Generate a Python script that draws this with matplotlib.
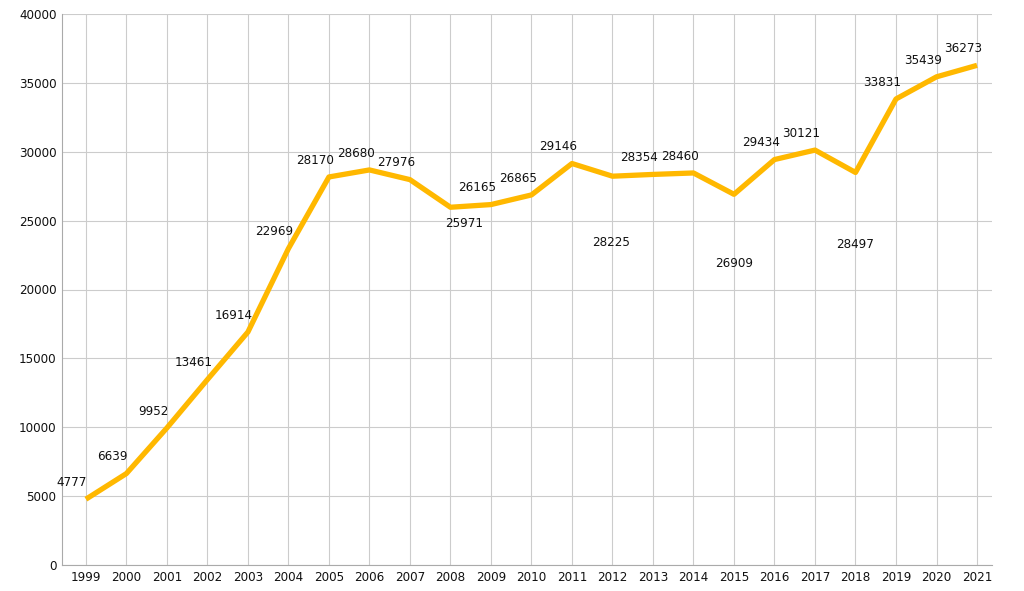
import matplotlib
matplotlib.use("Agg")
import matplotlib.pyplot as plt

years = list(range(1999, 2022))
values = [4777, 6639, 9952, 13461, 16914, 22969, 28170, 28680, 27976, 25971,
          26165, 26865, 29146, 28225, 28354, 28460, 26909, 29434, 30121, 28497,
          33831, 35439, 36273]

# label offsets in points (dx, dy)
below = {2008: (10, -12), 2012: (-1, -48), 2015: (0, -50), 2018: (0, -52)}

plt.rcParams['font.family'] = ['DejaVu Sans']
fig = plt.figure(figsize=(10.24, 5.91), dpi=100)
ax = fig.add_axes([62/1024, 26/591, 930/1024, 551/591])

ax.plot(years, values, color='#FFB800', linewidth=3.8, solid_capstyle='butt', zorder=3)
for y, v in zip(years, values):
    dx, dy = below.get(y, (-10, 12))
    ax.annotate(str(v), (y, v), xytext=(dx, dy), textcoords='offset points',
                ha='center', va='center', fontsize=9.5, fontstretch='condensed', color='#111111')

ax.set_xlim(1998.41, 2021.37)
ax.set_ylim(0, 40000)
ax.set_xticks(years)
ax.set_yticks(range(0, 40001, 5000))
ax.grid(True, color='#cccccc', linewidth=0.8, zorder=0)
for s in ['top', 'right']:
    ax.spines[s].set_visible(False)
for s in ['left', 'bottom']:
    ax.spines[s].set_color('#aaaaaa')
ax.tick_params(length=0, labelsize=9.5, colors='#111111', pad=4)
for lab in ax.get_xticklabels() + ax.get_yticklabels():
    lab.set_fontstretch('condensed')

fig.savefig('out.png', dpi=100)
